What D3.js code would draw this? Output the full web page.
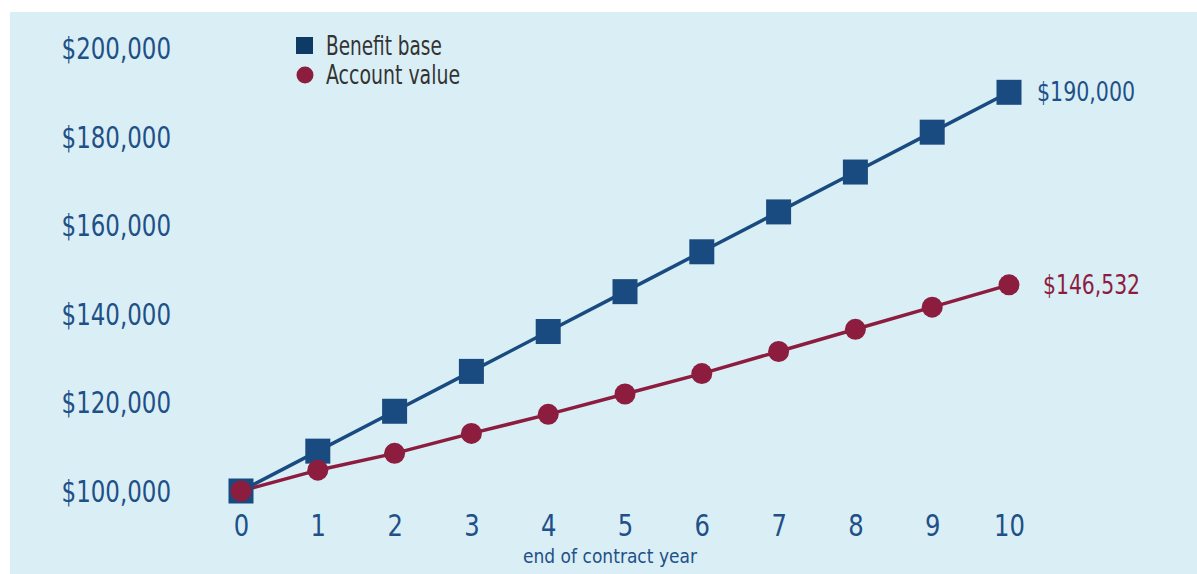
<!DOCTYPE html>
<html><head><meta charset="utf-8">
<script src="https://cdn.jsdelivr.net/npm/d3@7"></script>
<style>
html,body{margin:0;padding:0;background:#fff;}
text{font-family:"Liberation Sans Narrow","DejaVu Sans Condensed","Roboto",sans-serif;}
</style></head>
<body><svg id="c" width="1197" height="574"></svg>
<script>
const years = [0,1,2,3,4,5,6,7,8,9,10];
const benefitBase = [100000,109000,118000,127000,136000,145000,154000,163000,172000,181000,190000];
const accountValue = [100000,104700,108500,113000,117300,121900,126500,131500,136500,141500,146532];
const yTicks = [100000,120000,140000,160000,180000,200000];
const seriesNames = ["Benefit base","Account value"];
const endLabels = ["$190,000","$146,532"];
const xTitle = "end of contract year";

const svg = d3.select("#c");
svg.append("rect").attr("x",10).attr("y",12).attr("width",1187).attr("height",562).attr("fill","#d9eff5");

const x = d3.scaleLinear().domain([0,10]).range([241,1009]);
const y = d3.scaleLinear().domain([100000,200000]).range([491,48]);
const blue="#1a4b80", red="#8c1d3f", lab="#1f5088";

// place text at (px,py) with horizontal compression sx
function ctext(g, px, py, sx, str){
  return g.append("text").attr("transform",`translate(${px},${py}) scale(${sx},1)`).text(str);
}

const fmt = d => "$" + d3.format(",")(d);
const yAxis = d3.axisLeft(y).tickValues(yTicks).tickFormat(fmt).tickSize(0).tickPadding(0);
const gy = svg.append("g").attr("transform","translate(171,0)").call(yAxis);
gy.select(".domain").remove();
gy.selectAll("text").attr("fill",lab).attr("font-size",30).attr("dy","0.35em").attr("x",0).attr("transform","scale(0.85,1)");

const xAxis = d3.axisBottom(x).tickValues(years).tickFormat(d3.format("d")).tickSize(0).tickPadding(0);
const gx = svg.append("g").attr("transform","translate(0,515)").call(xAxis);
gx.select(".domain").remove();
gx.selectAll("text").attr("fill",lab).attr("font-size",30).attr("dy","0.71em").attr("transform","scale(0.9,1)");

ctext(svg,610,563,0.95,xTitle).attr("text-anchor","middle").attr("fill",lab).attr("font-size",20);

const line = d3.line().x((d,i)=>x(years[i])).y(d=>y(d));
svg.append("path").attr("d",line(benefitBase)).attr("fill","none").attr("stroke",blue).attr("stroke-width",3.5);
svg.append("path").attr("d",line(accountValue)).attr("fill","none").attr("stroke",red).attr("stroke-width",3.5);

const s=25;
svg.selectAll("rect.bb").data(benefitBase).join("rect").attr("class","bb")
  .attr("x",(d,i)=>x(years[i])-s/2).attr("y",d=>y(d)-s/2).attr("width",s).attr("height",s).attr("fill",blue);
svg.selectAll("circle.av").data(accountValue).join("circle").attr("class","av")
  .attr("cx",(d,i)=>x(years[i])).attr("cy",d=>y(d)).attr("r",10.5).attr("fill",red);

ctext(svg,x(10)+28,y(benefitBase[10]),0.88,endLabels[0]).attr("dy","0.35em").attr("fill",lab).attr("font-size",26);
ctext(svg,x(10)+34,y(accountValue[10]),0.87,endLabels[1]).attr("dy","0.35em").attr("fill",red).attr("font-size",26);

// legend
svg.append("rect").attr("x",296).attr("y",37).attr("width",17).attr("height",17).attr("fill","#0e3a66");
svg.append("circle").attr("cx",305).attr("cy",75).attr("r",8.5).attr("fill",red);
ctext(svg,326,46,0.79,seriesNames[0]).attr("dy","0.35em").attr("fill","#333").attr("font-size",26);
ctext(svg,326,75,0.81,seriesNames[1]).attr("dy","0.35em").attr("fill","#333").attr("font-size",26);
</script></body></html>
